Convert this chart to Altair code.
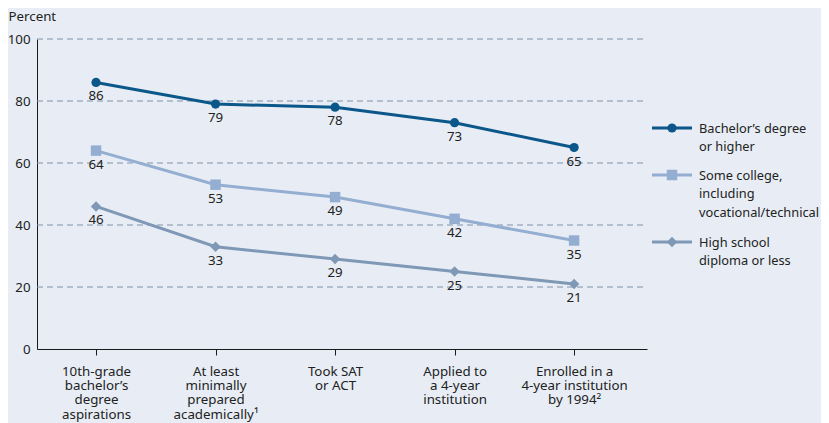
import altair as alt
import pandas as pd

# ---- data ----
cat_lines = [
    ["10th-grade", "bachelor\u2019s", "degree", "aspirations"],
    ["At least", "minimally", "prepared", "academically\u00b9"],
    ["Took SAT", "or ACT"],
    ["Applied to", "a 4-year", "institution"],
    ["Enrolled in a", "4-year institution", "by 1994\u00b2"],
]
series = ["Bachelor\u2019s degree or higher",
          "Some college, including vocational/technical",
          "High school diploma or less"]
legend_lines = [["Bachelor\u2019s degree", "or higher"],
                ["Some college,", "including", "vocational/technical"],
                ["High school", "diploma or less"]]
bachelors = [86, 79, 78, 73, 65]
some_college = [64, 53, 49, 42, 35]
high_school = [46, 33, 29, 25, 21]
y_ticks = [0, 20, 40, 60, 80, 100]

colors = ["#0b578a", "#94aed1", "#7e98b5"]
shapes = ["circle", "square", "diamond"]
sizes = [85, 110, 110]

FONT = "Noto Sans"
FS = 13.3
BG = "#e8edf5"

rows = []
for s, vals in zip(series, [bachelors, some_college, high_school]):
    for i, v in enumerate(vals):
        rows.append({"series": s, "idx": i, "value": v})
df = pd.DataFrame(rows)

W, H = 610, 310
xscale = alt.Scale(domain=[-0.494, 4.61], nice=False, zero=False)
yscale = alt.Scale(domain=[0, 100], nice=False)
cscale = alt.Scale(domain=series, range=colors)

label_expr = "[" + ",".join(
    "[" + ",".join("'" + t + "'" for t in lines) + "]" for lines in cat_lines
) + "][datum.value]"

x_enc = alt.X("idx:Q", scale=xscale, axis=alt.Axis(
    values=list(range(len(cat_lines))), labelExpr=label_expr, title=None,
    grid=False, domainColor="#1a1a1a", domainWidth=1, tickColor="#1a1a1a",
    tickSize=6, labelPadding=9, labelFontSize=FS, labelColor="#222",
    labelFont=FONT, labelLineHeight=14.4, labelOverlap=False, labelFlush=False,
    labelBaseline="top"))
y_enc = alt.Y("value:Q", scale=yscale, axis=alt.Axis(
    values=y_ticks, title="Percent", titleAngle=0, titleX=-29, titleY=-16,
    titleAlign="left", titleFont=FONT, titleFontSize=FS, titleFontWeight="normal",
    titleColor="#222", ticks=False, labelPadding=7, labelFont=FONT,
    labelFontSize=FS, labelColor="#222", domainColor="#1a1a1a",
    grid=False))

base = alt.Chart(df)

grid = alt.Chart(pd.DataFrame({"value": y_ticks[1:]})).mark_rule(
    color="#7d92a9", strokeDash=[6, 4], strokeWidth=1
).encode(y=alt.Y("value:Q", scale=yscale), x=alt.value(0), x2=alt.value(W))

lines = base.mark_line(strokeWidth=3).encode(
    x=x_enc, y=y_enc,
    color=alt.Color("series:N", scale=cscale, legend=None),
    detail="series:N")

pts = []
for s, shp, sz in zip(series, shapes, sizes):
    pts.append(alt.Chart(df[df.series == s]).mark_point(
        shape=shp, size=sz, filled=True, opacity=1).encode(
        x=alt.X("idx:Q", scale=xscale),
        y=alt.Y("value:Q", scale=yscale),
        color=alt.Color("series:N", scale=cscale, legend=None)))

labels = base.mark_text(baseline="top", dy=7, font=FONT, fontSize=FS,
                        color="#222").encode(
    x=alt.X("idx:Q", scale=xscale), y=alt.Y("value:Q", scale=yscale),
    text="value:Q")

# ---- manual legend ----
row_y = [89, 136, 203]
leg = pd.DataFrame({
    "series": series,
    "text": ["\n".join(l) for l in legend_lines],
    "y": row_y,
    "x1": [615] * 3, "x2": [655] * 3, "xm": [635] * 3, "xt": [662] * 3,
})
leg_rule = alt.Chart(leg).mark_rule(strokeWidth=3).encode(
    x=alt.X("x1:Q", scale=None), x2="x2:Q", y=alt.Y("y:Q", scale=None),
    color=alt.Color("series:N", scale=cscale, legend=None))
leg_pts = []
for i, (shp, sz) in enumerate(zip(shapes, sizes)):
    leg_pts.append(alt.Chart(leg.iloc[[i]]).mark_point(
        shape=shp, size=sz, filled=True, opacity=1).encode(
        x=alt.X("xm:Q", scale=None), y=alt.Y("y:Q", scale=None),
        color=alt.Color("series:N", scale=cscale, legend=None)))
leg_text = alt.Chart(leg).mark_text(
    align="left", baseline="alphabetic", dy=4.5, lineBreak="\n", lineHeight=18.5,
    font=FONT, fontSize=12.8, color="#222").encode(
    x=alt.X("xt:Q", scale=None), y=alt.Y("y:Q", scale=None), text="text:N")

chart = alt.layer(grid, lines, *pts, labels, leg_rule, *leg_pts, leg_text).properties(
    width=W, height=H,
    autosize=alt.AutoSizeParams(type="none"),
    padding={"left": 29, "top": 31, "right": 174, "bottom": 74},
    background=BG,
).configure_view(stroke=None).configure_axis(labelFont=FONT)

chart.save("out.html", embed_options={"renderer": "svg", "actions": False})
